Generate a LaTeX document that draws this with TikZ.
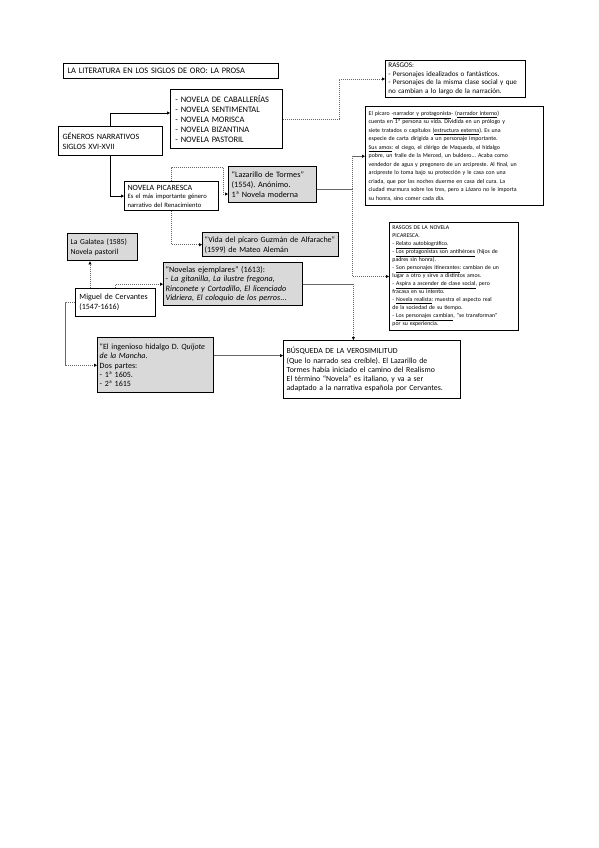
\documentclass[tikz,border=0pt]{standalone}
\usepackage{fontspec}
\setmainfont{Carlito}
\usetikzlibrary{arrows.meta,calc}
\begin{document}
\frenchspacing
\hyphenpenalty=10000
\begin{tikzpicture}[x=1pt,y=-1pt,
  box/.style={draw=black, line width=0.9pt, fill=white, anchor=north west, inner sep=0pt, inner xsep=4pt, align=left, font=\fontsize{7.6}{10}\selectfont},
  thick box/.style={box, line width=1.4pt},
  grey box/.style={box, fill=black!15, line width=1.4pt},
  solidcon/.style={draw=black, line width=0.7pt, -{Triangle[length=3pt,width=3pt]}},
  dotcon/.style={draw=black!60, line width=0.6pt, dash pattern=on 1.2pt off 0.8pt, -{Triangle[length=3pt,width=3pt,color=black]}},
  dotline/.style={draw=black!60, line width=0.6pt, dash pattern=on 1.2pt off 0.8pt}]
\useasboundingbox (0,0) rectangle (599,848);
\fill[white] (0,0) rectangle (599,848);

% title
\node[thick box, minimum width=215pt, minimum height=15pt, text width=207pt, font=\fontsize{8.4}{9}\selectfont] (title) at (63,63) {LA LITERATURA EN LOS SIGLOS DE ORO: LA PROSA};

% list of novels
\node[box, minimum width=111pt, minimum height=59pt, text width=102pt, inner xsep=5pt, font=\fontsize{8.4}{10}\selectfont] (list) at (170,89) {- NOVELA DE CABALLERÍAS\\- NOVELA SENTIMENTAL\\- NOVELA MORISCA\\- NOVELA BIZANTINA\\- NOVELA PASTORIL};

% generos
\node[box, minimum width=104pt, minimum height=29pt, text width=96pt, line width=1.1pt, font=\fontsize{8.1}{10}\selectfont] (gen) at (58,126) {GÉNEROS NARRATIVOS\\SIGLOS XVI-XVII};

% picaresca
\node[box, minimum width=94pt, minimum height=29pt, text width=88pt, inner xsep=3pt, line width=1.1pt, font=\fontsize{6.6}{8.5}\selectfont] (pic) at (124,181) {{\fontsize{8}{9}\selectfont NOVELA PICARESCA}\\Es el más importante género\\narrativo del Renacimiento};

% lazarillo
\node[grey box, minimum width=88pt, minimum height=36pt, text width=82pt, inner xsep=3pt, font=\fontsize{8.2}{10}\selectfont] (laz) at (228,166) {“Lazarillo de Tormes”\\(1554). Anónimo.\\1ª Novela moderna};

% vida del picaro
\node[grey box, minimum width=136pt, minimum height=24pt, text width=132pt, inner xsep=2pt, font=\fontsize{8}{10}\selectfont] (vida) at (202,232) {“Vida del pícaro Guzmán de Alfarache”\\(1599) de Mateo Alemán};

% galatea
\node[grey box, minimum width=70pt, minimum height=27pt, text width=64pt, inner xsep=3pt, font=\fontsize{7.7}{10}\selectfont] (gal) at (67,233) {La Galatea (1585)\\Novela pastoril};

% cervantes
\node[box, minimum width=80pt, minimum height=28pt, text width=72pt, font=\fontsize{8}{10}\selectfont] (cer) at (75,288) {Miguel de Cervantes\\(1547-1616)};

% novelas ejemplares
\node[grey box, minimum width=139pt, minimum height=43pt, text width=135pt, inner xsep=2pt, font=\fontsize{8.2}{9.5}\selectfont] (nov) at (163,262) {“Novelas ejemplares” (1613):\\- \textit{La gitanilla, La ilustre fregona,}\\\textit{Rinconete y Cortadillo, El licenciado}\\\textit{Vidriera, El coloquio de los perros}...};

% quijote
\node[grey box, minimum width=116pt, minimum height=55pt, text width=112pt, inner xsep=2pt, font=\fontsize{8}{9.4}\selectfont] (qui) at (97,337) {“El ingenioso hidalgo D. \textit{Quijote}\\\textit{de la Mancha}.\\Dos partes:\\- 1ª 1605.\\- 2ª 1615};

% busqueda
\node[thick box, minimum width=177pt, minimum height=58pt, text width=171pt, inner xsep=3pt, font=\fontsize{7.8}{9.3}\selectfont] (bus) at (283,340) {BÚSQUEDA DE LA VEROSIMILITUD\\(Que lo narrado sea creíble). El Lazarillo de\\Tormes había iniciado el camino del Realismo\\El término “Novela” es italiano, y va a ser\\adaptado a la narrativa española por Cervantes.};

% rasgos
\node[box, minimum width=140pt, minimum height=37pt, text width=134pt, inner xsep=3pt, font=\fontsize{7.1}{8.6}\selectfont] (ras) at (385,60) {RASGOS:\\- Personajes idealizados o fantásticos.\\- Personajes de la misma clase social y que\\no cambian a lo largo de la narración.};

% big text
\node[thick box, minimum width=178pt, minimum height=99pt, text width=172pt, inner xsep=3pt, font=\fontsize{5.9}{8.5}\selectfont] (big) at (365,106) {El pícaro -\underline{narrador y protagonista}- (\underline{narrador interno})\\cuenta en 1ª persona su vida. Dividida en un prólogo y\\siete tratados o capítulos (\underline{estructura externa}). Es una\\especie de carta dirigida a un personaje importante.\\\underline{Sus amos}: el ciego, el clérigo de Maqueda, el hidalgo\\pobre, un fraile de la Merced, un buldero... Acaba como\\vendedor de agua y pregonero de un arcipreste. Al final, un\\arcipreste lo toma bajo su protección y le casa con una\\criada, que por las noches duerme en casa del cura. La\\ciudad murmura sobre los tres, pero a Lázaro no le importa\\su honra, sino comer cada día.};

% rasgos picaresca
\node[box, minimum width=129pt, minimum height=108pt, text width=123pt, inner xsep=3pt, font=\fontsize{5.8}{8}\selectfont] (rp) at (389,222) {RASGOS DE LA NOVELA\\PICARESCA.\\- \underline{Relato autobiográfico}.\\- \underline{Los protagonistas son antihéroes} (hijos de\\padres sin honra).\\- \underline{Son personajes itinerantes}: cambian de un\\lugar a otro y sirve a distintos amos.\\- \underline{Aspira a ascender de clase social}, pero\\fracasa en su intento.\\- \underline{Novela realista}: muestra el aspecto real\\de la sociedad de su tiempo.\\- \underline{Los personajes cambian}, “se transforman”\\por su experiencia.};

% ---- connectors
\coordinate (listin) at ($(list.north west)!0.4!(list.south west)$);
\draw[solidcon] (gen.north) |- (listin);
\draw[solidcon] (gen.south) |- (pic.west);

% list -> rasgos
\coordinate (r1) at ($(list.east)+(56,0)$);
\draw[dotcon] (list.east) -- (r1) |- (ras.west);

% picaresca -> lazarillo
\coordinate (lazin) at ($(laz.north west)!0.75!(laz.south west)$);
\coordinate (p1) at ($(pic.north)+(0,-14)$);
\coordinate (p2) at ($(lazin)+(-5,0)$);
\draw[dotcon] (pic.north) -- (p1) -| (p2) -- (lazin);
% picaresca -> vida
\draw[dotcon] (pic.south) |- (vida.west);

% lazarillo -> big text, rasgos picaresca
\coordinate (lazout) at ($(laz.north east)!0.62!(laz.south east)$);
\coordinate (j1) at ($(lazout)+(35,0)$);
\draw[dotline] (lazout) -- (j1);
\draw[dotcon] (j1) |- (big.west);
\draw[dotcon] (j1) |- (rp.west);

% cervantes connectors
\coordinate (c1) at ($(cer.north west)+(15,0)$);
\draw[dotcon] (c1) -- (c1 |- gal.south);
\draw[dotcon] (cer.north) |- (nov.west);
\coordinate (n1) at ($(nov.east)+(50,0)$);
\draw[dotcon] (nov.east) -- (n1) -- (n1 |- bus.north);
\coordinate (c2) at ($(cer.west)+(-10,0)$);
\draw[dotcon] (cer.west) -- (c2) |- (qui.west);
\coordinate (qout) at ($(qui.north east)!0.33!(qui.south east)$);
\draw[dotcon] (qout) -- (qout -| bus.west);
\end{tikzpicture}
\end{document}
